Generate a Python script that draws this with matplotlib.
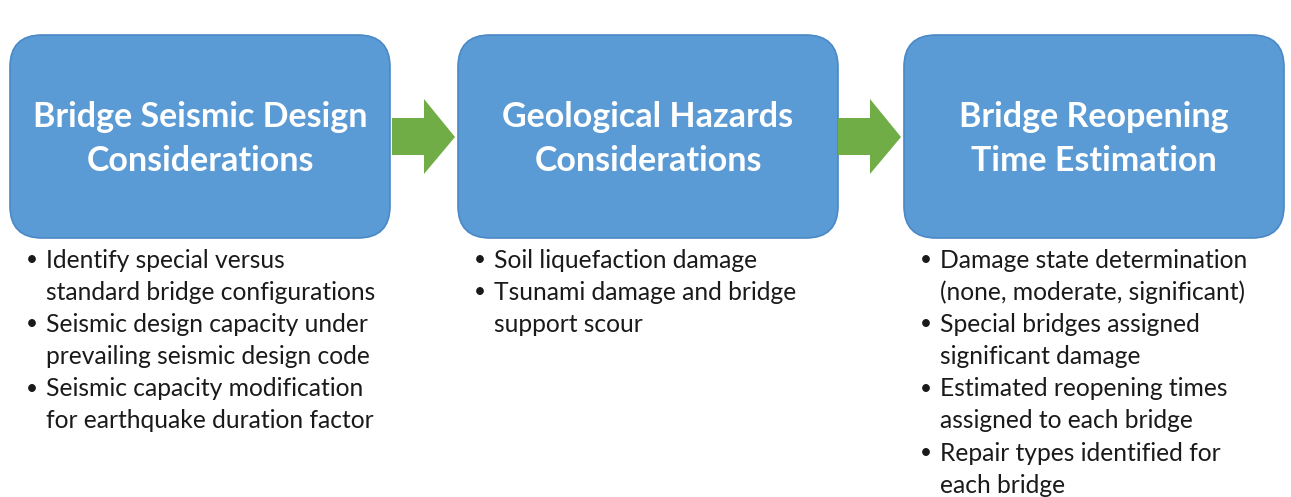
import matplotlib.pyplot as plt
from matplotlib.patches import FancyBboxPatch, Polygon

titles = [
    ["Bridge Seismic Design", "Considerations"],
    ["Geological Hazards", "Considerations"],
    ["Bridge Reopening", "Time Estimation"],
]
bullets = [
    [["Identify special versus", "standard bridge configurations"],
     ["Seismic design capacity under", "prevailing seismic design code"],
     ["Seismic capacity modification", "for earthquake duration factor"]],
    [["Soil liquefaction damage"],
     ["Tsunami damage and bridge", "support scour"]],
    [["Damage state determination", "(none, moderate, significant)"],
     ["Special bridges assigned", "significant damage"],
     ["Estimated reopening times", "assigned to each bridge"],
     ["Repair types identified for", "each bridge"]],
]
box_left = [10, 458, 904]

W, H = 1291, 497
fig = plt.figure(figsize=(W / 100, H / 100), dpi=100)
ax = fig.add_axes([0, 0, 1, 1])
ax.set_xlim(0, W)
ax.set_ylim(H, 0)
ax.axis('off')

blue = '#5B9BD5'
edge = '#4A88C6'
green = '#70AD47'
bw, bh, top = 380, 203, 35
font = 'Lato'

for i, x0 in enumerate(box_left):
    ax.add_patch(FancyBboxPatch((x0, top), bw, bh,
                                boxstyle='round,pad=0,rounding_size=32',
                                fc=blue, ec=edge, lw=1.2))
    cx = x0 + bw / 2
    for j, line in enumerate(titles[i]):
        ax.text(cx, 117 + 44 * j, line, ha='center', va='center',
                color='white', fontsize=24.5, fontweight='bold', family=font)
    y = 260
    for item in bullets[i]:
        ax.text(x0 + 22, y, '•', ha='center', va='center', fontsize=15,
                color='#1a1a1a', family=font)
        for line in item:
            ax.text(x0 + 36, y, line, ha='left', va='center', fontsize=17.7,
                    color='#1a1a1a', family=font)
            y += 32.2

# arrows between boxes
for ax0 in [392, 838]:
    pts = [(ax0, 118), (ax0 + 32, 118), (ax0 + 32, 99), (ax0 + 63, 137),
           (ax0 + 32, 174), (ax0 + 32, 155), (ax0, 155)]
    ax.add_patch(Polygon(pts, closed=True, fc=green, ec='none'))

fig.savefig('out.png', dpi=100)
